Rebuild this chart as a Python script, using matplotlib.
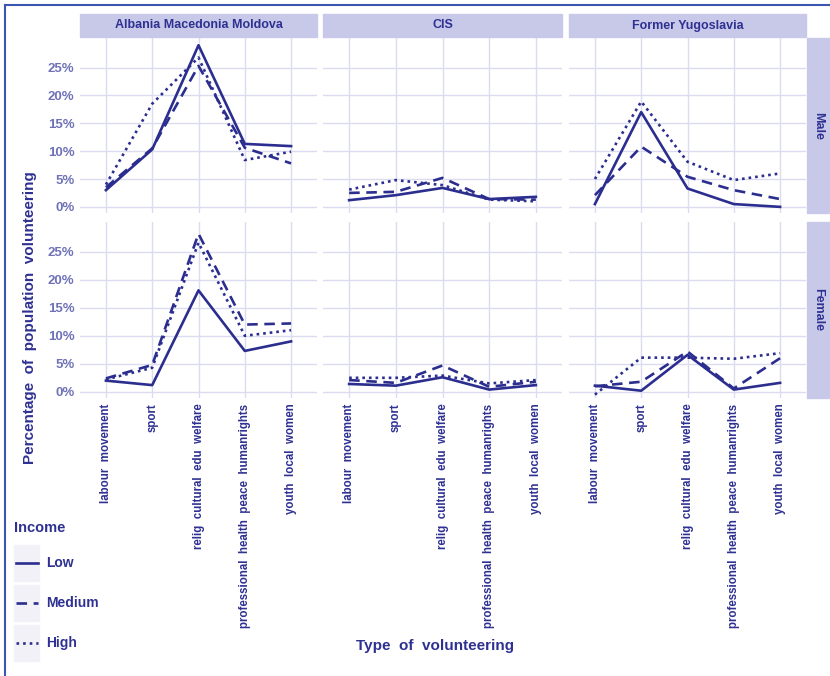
import matplotlib
matplotlib.use("Agg")
import matplotlib.pyplot as plt
from matplotlib.lines import Line2D
from matplotlib.patches import Rectangle
import numpy as np

plt.rcParams['font.family'] = ['Liberation Sans Narrow', 'Liberation Sans', 'DejaVu Sans']

# categories / facets
types = ["labour  movement", "sport", "relig  cultural  edu  welfare",
         "professional  health  peace  humanrights", "youth  local  women"]
regions = ["Albania Macedonia Moldova", "CIS", "Former Yugoslavia"]
sexes = ["Male", "Female"]
incomes = ["Low", "Medium", "High"]

# percentages, one list per region/sex/income
male_albania_low = [3.0, 10.3, 29.0, 11.3, 10.9]
male_albania_med = [3.5, 10.5, 25.3, 10.6, 7.8]
male_albania_high = [4.0, 18.5, 26.8, 8.4, 9.9]
male_cis_low = [1.2, 2.1, 3.4, 1.4, 1.8]
male_cis_med = [2.5, 2.7, 5.2, 1.4, 1.3]
male_cis_high = [3.1, 4.8, 3.9, 1.3, 1.0]
male_yugo_low = [0.5, 17.0, 3.3, 0.5, 0.0]
male_yugo_med = [2.1, 10.8, 5.4, 3.0, 1.4]
male_yugo_high = [5.0, 18.9, 8.1, 4.8, 6.0]

female_albania_low = [2.0, 1.2, 18.1, 7.3, 9.0]
female_albania_med = [2.4, 4.8, 28.2, 12.0, 12.2]
female_albania_high = [2.2, 4.3, 26.6, 10.0, 11.0]
female_cis_low = [1.4, 1.1, 2.6, 0.4, 1.2]
female_cis_med = [2.1, 1.6, 4.7, 0.9, 1.8]
female_cis_high = [2.5, 2.5, 2.9, 1.5, 2.1]
female_yugo_low = [1.1, 0.2, 6.6, 0.4, 1.6]
female_yugo_med = [1.0, 1.8, 7.2, 0.6, 6.0]
female_yugo_high = [-0.5, 6.1, 6.1, 5.9, 6.9]

data = {
    ("Male", 0): [male_albania_low, male_albania_med, male_albania_high],
    ("Male", 1): [male_cis_low, male_cis_med, male_cis_high],
    ("Male", 2): [male_yugo_low, male_yugo_med, male_yugo_high],
    ("Female", 0): [female_albania_low, female_albania_med, female_albania_high],
    ("Female", 1): [female_cis_low, female_cis_med, female_cis_high],
    ("Female", 2): [female_yugo_low, female_yugo_med, female_yugo_high],
}

W, H = 830, 676
LINE = "#2b2e8e"
TXT = "#2e3192"
TICK = "#6f72b8"
GRID = "#dcdcf0"
STRIP = "#c8c9e8"
styles = {"Low": "-", "Medium": (0, (4, 2.5)), "High": (0, (1, 1.5))}

fig = plt.figure(figsize=(W / 100, H / 100), dpi=100)


def box(x0, y0, x1, y1):
    # pixel box (from top-left) -> figure fraction
    return [x0 / W, 1 - y1 / H, (x1 - x0) / W, (y1 - y0) / H]


cols = [(80, 317), (323, 562), (569, 806)]
rows = [(38, 213), (222, 398)]

for r, sex in enumerate(sexes):
    for c, reg in enumerate(regions):
        ax = fig.add_axes(box(cols[c][0], rows[r][0], cols[c][1], rows[r][1]))
        x = np.arange(len(types))
        for k, inc in enumerate(incomes):
            ax.plot(x, data[(sex, c)][k], color=LINE, lw=1.9, ls=styles[inc])
        ax.set_xlim(-0.56, 4.56)
        ax.set_ylim(-1.1, 30.3)
        ax.set_yticks([0, 5, 10, 15, 20, 25])
        ax.set_xticks(x)
        ax.grid(True, color=GRID, lw=1.0)
        ax.set_axisbelow(True)
        for s in ax.spines.values():
            s.set_visible(False)
        ax.tick_params(length=0, pad=4)
        if c == 0:
            ax.set_yticklabels([f"{v}%" for v in [0, 5, 10, 15, 20, 25]],
                               color=TICK, fontsize=9.5, fontweight="bold")
        else:
            ax.set_yticklabels([])
        if r == 1:
            ax.set_xticklabels(types, rotation=90, color=TXT, fontsize=8.3,
                               fontweight="bold", va="top")
        else:
            ax.set_xticklabels([])

# strips on top
for c, reg in enumerate(regions):
    x0, x1 = cols[c]
    fig.patches.append(Rectangle((x0 / W, 1 - 37 / H), (x1 - x0) / W, 23 / H,
                                 transform=fig.transFigure, color=STRIP, zorder=0))
    fig.text((x0 + x1) / 2 / W, 1 - 25.5 / H, reg, ha="center", va="center",
             color=TXT, fontsize=9, fontweight="bold")

# strips on the right
for r, sex in enumerate(sexes):
    y0, y1 = rows[r]
    fig.patches.append(Rectangle((807 / W, 1 - y1 / H), 22 / W, (y1 - y0) / H,
                                 transform=fig.transFigure, color=STRIP, zorder=0))
    fig.text(818 / W, 1 - (y0 + y1) / 2 / H, sex, ha="center", va="center",
             rotation=270, color=TXT, fontsize=9, fontweight="bold")

fig.text(30 / W, 1 - 318 / H, "Percentage  of  population  volunteering",
         rotation=90, ha="center", va="center", color=TXT, fontsize=11,
         fontweight="bold")
fig.text(435 / W, 1 - 646 / H, "Type  of  volunteering", ha="center", va="center",
         color=TXT, fontsize=11, fontweight="bold")

# legend
fig.text(14 / W, 1 - 528 / H, "Income", ha="left", va="center", color=TXT,
         fontsize=10.5, fontweight="bold")
for k, inc in enumerate(incomes):
    yc = 563 + 40 * k
    fig.patches.append(Rectangle((14 / W, 1 - (yc + 18) / H), 25 / W, 36 / H,
                                 transform=fig.transFigure, color="#f1f1f7", zorder=0))
    fig.lines.append(Line2D([16 / W, 38 / W], [1 - yc / H, 1 - yc / H],
                            transform=fig.transFigure, color=LINE, lw=1.9,
                            ls=styles[inc]))
    fig.text(46 / W, 1 - yc / H, inc, ha="left", va="center", color=TXT,
             fontsize=10, fontweight="bold")

# frame
fig.lines.append(Line2D([5 / W, 5 / W], [0, 1 - 5 / H], transform=fig.transFigure,
                        color="#3a56b0", lw=1.5))
fig.lines.append(Line2D([5 / W, 1], [1 - 5 / H, 1 - 5 / H], transform=fig.transFigure,
                        color="#3a56b0", lw=1.5))

fig.savefig("out.png", dpi=100, facecolor="white")
